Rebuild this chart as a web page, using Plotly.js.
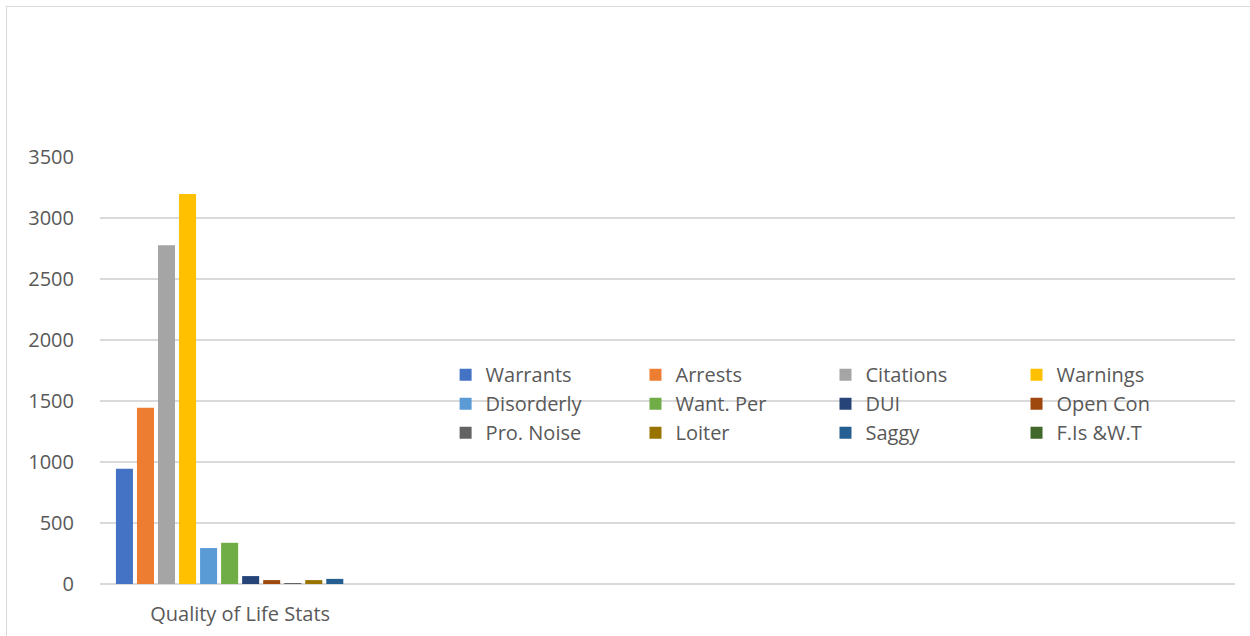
<!DOCTYPE html>
<html>
<head>
<meta charset="utf-8">
<script src="https://cdn.plot.ly/plotly-3.0.1.min.js"></script>
<style>
html,body{margin:0;padding:0;background:#fff;}
#wrap{position:relative;width:1250px;height:636px;overflow:hidden;}
#chart{width:1250px;height:636px;}
#frame{position:absolute;left:6px;top:6px;width:1300px;height:700px;border:1.5px solid #d9d9d9;pointer-events:none;}
</style>
</head>
<body>
<div id="wrap"><div id="chart"></div><div id="frame"></div></div>
<script>
// ---- data ----
const categories = ["Quality of Life Stats"];
const seriesNames = ["Warrants","Arrests","Citations","Warnings","Disorderly","Want. Per","DUI","Open Con","Pro. Noise","Loiter","Saggy","F.Is &W.T"];
const seriesValues = [945, 1445, 2780, 3200, 295, 338, 65, 32, 7, 32, 42, 0];
const seriesColors = ["#4472C4","#ED7D31","#A5A5A5","#FFC000","#5B9BD5","#70AD47","#264478","#9E480E","#636363","#997300","#255E91","#43682B"];
const yTicks = [0, 500, 1000, 1500, 2000, 2500, 3000, 3500];

const FONT = "Open Sans, Lato, sans-serif";
const TXT = "#595959";
const FS = 20;

const traces = seriesNames.map((name, i) => ({
  type: "bar",
  name: name,
  x: categories,
  y: [seriesValues[i]],
  marker: {color: seriesColors[i], line: {width: 0}},
  legend: i % 4 === 0 ? "legend" : "legend" + (i % 4 + 1),
  legendgroup: "g" + i,
  hoverinfo: "name+y"
}));

const legendXs = [0.3045, 0.4718, 0.6392, 0.8075];
const legendBase = {
  y: 0.536, yanchor: "top", xanchor: "left",
  orientation: "v",
  bgcolor: "rgba(0,0,0,0)",
  borderwidth: 0,
  tracegroupgap: 0,
  font: {family: FONT, size: FS, color: TXT},
  itemclick: false, itemdoubleclick: false
};
const layout = {
  width: 1250, height: 636,
  margin: {l: 100, r: 15, t: 157, b: 52, pad: 0},
  paper_bgcolor: "#ffffff",
  plot_bgcolor: "#ffffff",
  barmode: "group",
  bargap: 0.112,
  bargroupgap: 0.19,
  font: {family: FONT, size: FS, color: TXT},
  xaxis: {
    type: "category",
    categoryorder: "array",
    categoryarray: categories,
    range: [-0.493, 3.5],
    showgrid: false, zeroline: false, showline: false,
    ticks: "outside", ticklen: 12, tickcolor: "rgba(0,0,0,0)",
    tickfont: {family: FONT, size: FS, color: TXT},
    fixedrange: true
  },
  yaxis: {
    range: [0, 3503],
    tickvals: yTicks,
    ticktext: yTicks.map(String),
    showgrid: true, gridcolor: "#d9d9d9", gridwidth: 1.5,
    zeroline: true, zerolinecolor: "#d9d9d9", zerolinewidth: 1.5,
    showline: false,
    ticks: "outside", ticklen: 21, tickcolor: "rgba(0,0,0,0)",
    tickfont: {family: FONT, size: FS, color: TXT},
    fixedrange: true
  },
  showlegend: true,
  legend: Object.assign({}, legendBase, {x: legendXs[0]}),
  legend2: Object.assign({}, legendBase, {x: legendXs[1]}),
  legend3: Object.assign({}, legendBase, {x: legendXs[2]}),
  legend4: Object.assign({}, legendBase, {x: legendXs[3]})
};
Plotly.newPlot("chart", traces, layout, {displayModeBar: false, staticPlot: false});
</script>
</body>
</html>
